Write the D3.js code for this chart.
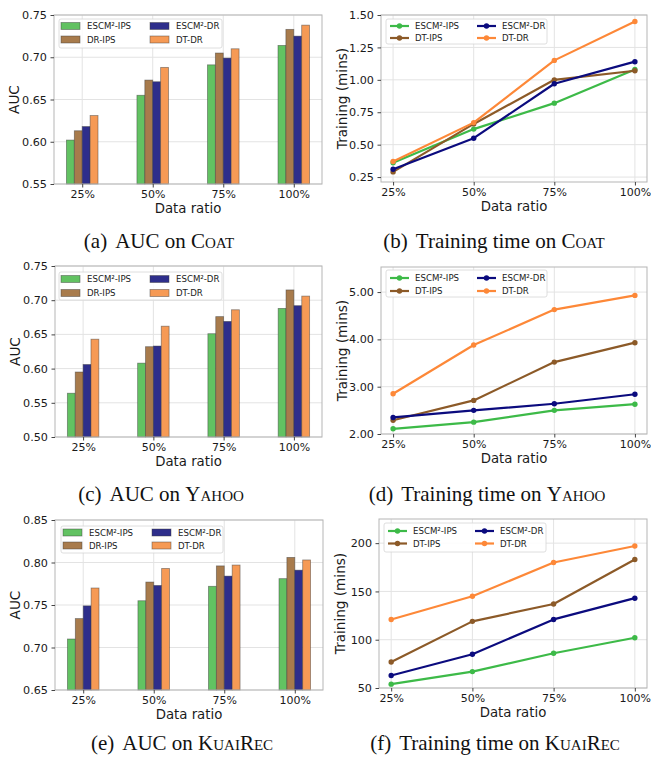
<!DOCTYPE html>
<html>
<head>
<meta charset="utf-8">
<script src="https://cdn.jsdelivr.net/npm/d3@7"></script>
<style>
  html, body { margin: 0; padding: 0; background: #fff; }
  svg { display: block; }
  .tick text { font-family: "DejaVu Sans", sans-serif; }
</style>
</head>
<body>
<svg id="chart" width="651" height="757"></svg>
<script>
// ---------------- DATA ----------------
const categories = ["25%", "50%", "75%", "100%"];

const barSeriesNames = ["ESCM²-IPS", "DR-IPS", "ESCM²-DR", "DT-DR"];
const lineSeriesNames = ["ESCM²-IPS", "DT-IPS", "ESCM²-DR", "DT-DR"];

// (a) AUC on Coat
const coatAucEscmIps = [0.602, 0.655, 0.691, 0.714];
const coatAucDrIps   = [0.613, 0.673, 0.705, 0.733];
const coatAucEscmDr  = [0.618, 0.671, 0.699, 0.725];
const coatAucDtDr    = [0.631, 0.688, 0.710, 0.738];

// (b) Training time on Coat
const coatTimeEscmIps = [0.36, 0.62, 0.82, 1.08];
const coatTimeDtIps   = [0.29, 0.66, 1.00, 1.07];
const coatTimeEscmDr  = [0.31, 0.55, 0.97, 1.14];
const coatTimeDtDr    = [0.37, 0.67, 1.15, 1.45];

// (c) AUC on Yahoo
const yahooAucEscmIps = [0.564, 0.608, 0.651, 0.688];
const yahooAucDrIps   = [0.595, 0.632, 0.676, 0.715];
const yahooAucEscmDr  = [0.606, 0.633, 0.669, 0.692];
const yahooAucDtDr    = [0.643, 0.662, 0.686, 0.706];

// (d) Training time on Yahoo
const yahooTimeEscmIps = [2.11, 2.25, 2.50, 2.63];
const yahooTimeDtIps   = [2.29, 2.71, 3.52, 3.93];
const yahooTimeEscmDr  = [2.35, 2.50, 2.64, 2.84];
const yahooTimeDtDr    = [2.85, 3.88, 4.63, 4.93];

// (e) AUC on KuaiRec
const kuaiAucEscmIps = [0.710, 0.755, 0.772, 0.781];
const kuaiAucDrIps   = [0.734, 0.777, 0.796, 0.806];
const kuaiAucEscmDr  = [0.749, 0.773, 0.784, 0.791];
const kuaiAucDtDr    = [0.770, 0.793, 0.797, 0.803];

// (f) Training time on KuaiRec
const kuaiTimeEscmIps = [54, 67, 86, 102];
const kuaiTimeDtIps   = [77, 119, 137, 183];
const kuaiTimeEscmDr  = [63, 85, 121, 143];
const kuaiTimeDtDr    = [121, 145, 180, 197];

// tick labels
const aucTicksCoat  = [0.55, 0.60, 0.65, 0.70, 0.75];
const timeTicksCoat = [0.25, 0.50, 0.75, 1.00, 1.25, 1.50];
const aucTicksYahoo = [0.50, 0.55, 0.60, 0.65, 0.70, 0.75];
const timeTicksYahoo = [2, 3, 4, 5];
const aucTicksKuai  = [0.65, 0.70, 0.75, 0.80, 0.85];
const timeTicksKuai = [50, 100, 150, 200];

// ---------------- STYLE ----------------
const barColors  = ["#62c262", "#a87b4c", "#2e2e8b", "#f69a55"];
const lineColors = ["#3dba48", "#8c5a28", "#0b0b7e", "#fd8838"];
const FONT = "'DejaVu Sans', sans-serif";
const SERIF = "'Liberation Serif', 'Times New Roman', serif";

const svg = d3.select("#chart");

function drawGrid(g, box, x, y, ticks) {
  g.append("g").selectAll("line").data(ticks).join("line")
    .attr("x1", box.x0).attr("x2", box.x1)
    .attr("y1", d => y(d)).attr("y2", d => y(d))
    .attr("stroke", "#e3e3e3").attr("stroke-width", 1);
  g.append("g").selectAll("line").data(d3.range(categories.length)).join("line")
    .attr("y1", box.y0).attr("y2", box.y1)
    .attr("x1", d => x(d)).attr("x2", d => x(d))
    .attr("stroke", "#e3e3e3").attr("stroke-width", 1);
}

function drawAxesOnTop(g, box, x, y, ticks, fmt, ylabel, ylabX) {
  g.append("rect")
    .attr("x", box.x0).attr("y", box.y0)
    .attr("width", box.x1 - box.x0).attr("height", box.y1 - box.y0)
    .attr("fill", "none").attr("stroke", "#b5b5b5").attr("stroke-width", 1);

  const yAxis = d3.axisLeft(y).tickValues(ticks).tickFormat(fmt)
    .tickSize(3.5).tickPadding(3.5);
  const ya = g.append("g").attr("transform", `translate(${box.x0},0)`).call(yAxis);
  ya.select(".domain").remove();
  ya.selectAll(".tick line").attr("stroke", "#444");
  ya.selectAll(".tick text").attr("font-size", "11.2px").attr("fill", "#1a1a1a")
    .attr("font-family", FONT);

  const xAxis = d3.axisBottom(x).tickValues(d3.range(categories.length))
    .tickFormat(i => categories[i]).tickSize(3.5).tickPadding(2.5);
  const xa = g.append("g").attr("transform", `translate(0,${box.y1})`).call(xAxis);
  xa.select(".domain").remove();
  xa.selectAll(".tick line").attr("stroke", "#444");
  xa.selectAll(".tick text").attr("font-size", "11px").attr("fill", "#1a1a1a")
    .attr("font-family", FONT);

  g.append("text")
    .attr("x", (box.x0 + box.x1) / 2).attr("y", box.y1 + 29)
    .attr("text-anchor", "middle").attr("font-family", FONT)
    .attr("font-size", "13.3px").attr("fill", "#1a1a1a")
    .text("Data ratio");

  g.append("text")
    .attr("transform", `translate(${ylabX},${(box.y0 + box.y1) / 2}) rotate(-90)`)
    .attr("text-anchor", "middle").attr("dominant-baseline", "central")
    .attr("font-family", FONT).attr("font-size", "13.6px").attr("fill", "#1a1a1a")
    .text(ylabel);
}

function legendBox(g, lg) {
  g.append("rect")
    .attr("x", lg.x0).attr("y", lg.y0)
    .attr("width", lg.x1 - lg.x0).attr("height", lg.y1 - lg.y0)
    .attr("rx", 2).attr("fill", "rgba(255,255,255,0.85)")
    .attr("stroke", "#d6d6d6").attr("stroke-width", 0.8);
}

function drawBarPanel(box, ylim, ticks, fmt, seriesValues, lg) {
  const g = svg.append("g");
  const x = d3.scaleLinear().domain([-0.4, 3.4]).range([box.x0, box.x1]);
  const y = d3.scaleLinear().domain(ylim).range([box.y1, box.y0]);
  drawGrid(g, box, x, y, ticks);
  const bw = 0.112;
  seriesValues.forEach((vals, s) => {
    g.append("g").selectAll("rect").data(vals).join("rect")
      .attr("x", (d, i) => x(i + (s - 2) * bw))
      .attr("width", x(bw) - x(0))
      .attr("y", d => y(d))
      .attr("height", d => y(ylim[0]) - y(d))
      .attr("fill", barColors[s])
      .attr("stroke", "rgba(60,60,60,0.55)").attr("stroke-width", 0.8);
  });
  drawAxesOnTop(g, box, x, y, ticks, fmt, "AUC", box.x0 - 40);

  legendBox(g, lg);
  const cols = [lg.x0 + 2, lg.x0 + 91];
  const rows = [lg.r0, lg.r1];
  barSeriesNames.forEach((name, s) => {
    const cx = cols[Math.floor(s / 2)], cy = rows[s % 2];
    g.append("rect").attr("x", cx).attr("y", cy - 3.5)
      .attr("width", 19).attr("height", 7)
      .attr("fill", barColors[s]).attr("stroke", "rgba(60,60,60,0.55)").attr("stroke-width", 0.8);
    g.append("text").attr("x", cx + 26).attr("y", cy)
      .attr("dominant-baseline", "central")
      .attr("font-family", FONT).attr("font-size", "8.6px").attr("fill", "#1a1a1a")
      .text(name);
  });
}

function drawLinePanel(box, ylim, ticks, fmt, seriesValues, lg) {
  const g = svg.append("g");
  const x = d3.scaleLinear().domain([-0.15, 3.15]).range([box.x0, box.x1]);
  const y = d3.scaleLinear().domain(ylim).range([box.y1, box.y0]);
  drawGrid(g, box, x, y, ticks);
  const line = d3.line().x((d, i) => x(i)).y(d => y(d));
  seriesValues.forEach((vals, s) => {
    g.append("path").datum(vals).attr("d", line)
      .attr("fill", "none").attr("stroke", lineColors[s]).attr("stroke-width", 2.2)
      .attr("stroke-linejoin", "round");
    g.append("g").selectAll("circle").data(vals).join("circle")
      .attr("cx", (d, i) => x(i)).attr("cy", d => y(d)).attr("r", 2.7)
      .attr("fill", lineColors[s]);
  });
  drawAxesOnTop(g, box, x, y, ticks, fmt, "Training (mins)", box.x0 - 39);

  legendBox(g, lg);
  const cols = [lg.x0 + 4, lg.x0 + 91];
  const rows = [lg.r0, lg.r1];
  lineSeriesNames.forEach((name, s) => {
    const cx = cols[Math.floor(s / 2)], cy = rows[s % 2];
    g.append("line").attr("x1", cx).attr("x2", cx + 19).attr("y1", cy).attr("y2", cy)
      .attr("stroke", lineColors[s]).attr("stroke-width", 2.2);
    g.append("circle").attr("cx", cx + 9.5).attr("cy", cy).attr("r", 2.7).attr("fill", lineColors[s]);
    g.append("text").attr("x", cx + 25).attr("y", cy)
      .attr("dominant-baseline", "central")
      .attr("font-family", FONT).attr("font-size", "8.6px").attr("fill", "#1a1a1a")
      .text(name);
  });
}

const f2 = d3.format(".2f");
const f0 = d3.format("d");

drawBarPanel({x0: 54, x1: 322, y0: 15, y1: 184}, [0.55, 0.75], aucTicksCoat, f2,
  [coatAucEscmIps, coatAucDrIps, coatAucEscmDr, coatAucDtDr],
  {x0: 59, x1: 222, y0: 19, y1: 48, r0: 26, r1: 39.5});

drawLinePanel({x0: 381, x1: 647, y0: 15, y1: 182}, [0.212, 1.5], timeTicksCoat, f2,
  [coatTimeEscmIps, coatTimeDtIps, coatTimeEscmDr, coatTimeDtDr],
  {x0: 386, x1: 547, y0: 19, y1: 44, r0: 26, r1: 38});

drawBarPanel({x0: 55, x1: 322, y0: 266, y1: 437}, [0.50, 0.75], aucTicksYahoo, f2,
  [yahooAucEscmIps, yahooAucDrIps, yahooAucEscmDr, yahooAucDtDr],
  {x0: 59, x1: 222, y0: 272, y1: 300, r0: 279, r1: 293});

drawLinePanel({x0: 381, x1: 647, y0: 267, y1: 434}, [2.0, 5.53], timeTicksYahoo, f2,
  [yahooTimeEscmIps, yahooTimeDtIps, yahooTimeEscmDr, yahooTimeDtDr],
  {x0: 386, x1: 547, y0: 270, y1: 297, r0: 278, r1: 291});

drawBarPanel({x0: 55, x1: 323, y0: 520, y1: 690}, [0.65, 0.85], aucTicksKuai, f2,
  [kuaiAucEscmIps, kuaiAucDrIps, kuaiAucEscmDr, kuaiAucDtDr],
  {x0: 61, x1: 223, y0: 526, y1: 553, r0: 532.5, r1: 545.5});

drawLinePanel({x0: 379, x1: 647, y0: 519, y1: 688}, [50, 225], timeTicksKuai, f0,
  [kuaiTimeEscmIps, kuaiTimeDtIps, kuaiTimeEscmDr, kuaiTimeDtDr],
  {x0: 384, x1: 546, y0: 523, y1: 552, r0: 531, r1: 543.5});

// ---------------- CAPTIONS ----------------
const captions = [
  {label: "(a)", pre: "AUC on ", sc: "Coat", cx: 159, y: 248},
  {label: "(b)", pre: "Training time on ", sc: "Coat", cx: 494, y: 248},
  {label: "(c)", pre: "AUC on ", sc: "Yahoo", cx: 161, y: 501},
  {label: "(d)", pre: "Training time on ", sc: "Yahoo", cx: 487, y: 501},
  {label: "(e)", pre: "AUC on ", sc: "KuaiRec", cx: 182, y: 750},
  {label: "(f)", pre: "Training time on ", sc: "KuaiRec", cx: 495, y: 750}
];
captions.forEach(c => {
  const t = svg.append("text")
    .attr("x", c.cx).attr("y", c.y).attr("text-anchor", "middle")
    .attr("font-family", SERIF).attr("font-size", "21px").attr("fill", "#111");
  t.append("tspan").text(c.label);
  t.append("tspan").attr("dx", 8).text(c.pre);
  t.append("tspan").attr("font-variant", "small-caps").text(c.sc);
});
</script>
</body>
</html>
